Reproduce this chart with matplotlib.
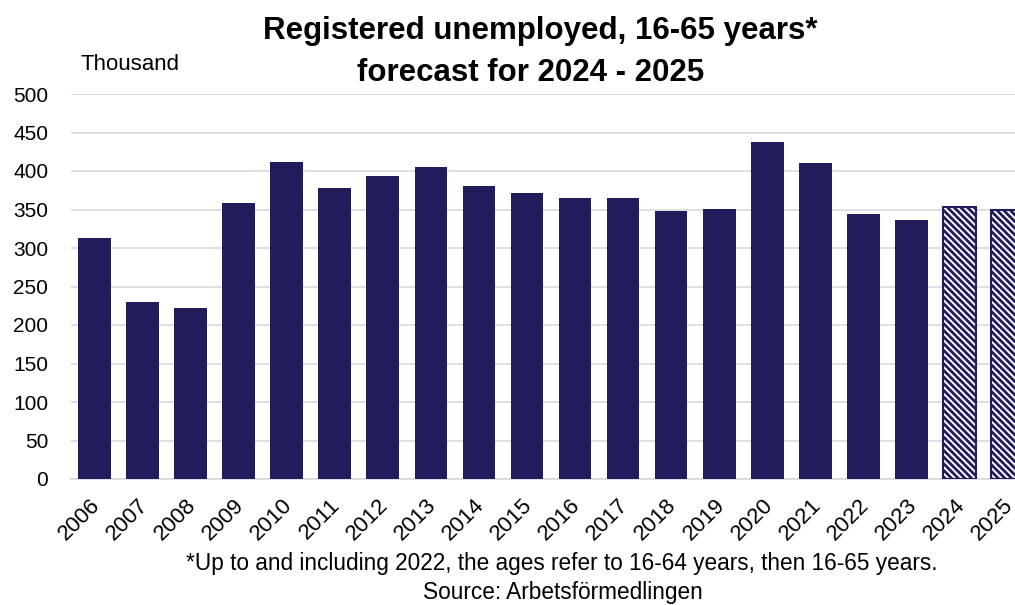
import matplotlib
matplotlib.use("Agg")
import matplotlib.pyplot as plt
import matplotlib.transforms as mtransforms
import numpy as np

plt.rcParams['font.family'] = ['Liberation Sans', 'DejaVu Sans']
plt.rcParams['hatch.linewidth'] = 2.0

years = ['2006', '2007', '2008', '2009', '2010', '2011', '2012', '2013', '2014', '2015',
         '2016', '2017', '2018', '2019', '2020', '2021', '2022', '2023', '2024', '2025']
values = [313, 230, 222, 358, 412, 378, 393, 405, 380, 371,
          365, 365, 348, 351, 438, 410, 344, 336, 353, 350]
forecast = [False] * 18 + [True, True]

navy = '#211C5C'

fig = plt.figure(figsize=(10.15, 6.05), dpi=100)
ax = fig.add_axes([70.5 / 1015, 126 / 605, 961 / 1015, 385 / 605])

x = np.arange(len(years))
for xi, v, f in zip(x, values, forecast):
    if f:
        ax.bar(xi, v, width=0.68, color='white', edgecolor=navy, hatch='\\\\\\\\\\',
               linewidth=1.5, zorder=3)
    else:
        ax.bar(xi, v, width=0.68, color=navy, zorder=3)

ax.set_xlim(-0.5, len(years) - 0.5)
ax.set_ylim(0, 500)
ax.set_yticks(range(0, 501, 50))
ax.yaxis.grid(True, color='#D9D9D9', linewidth=1.2, zorder=0)
ax.set_axisbelow(True)
for s in ['top', 'right', 'left']:
    ax.spines[s].set_visible(False)
ax.spines['bottom'].set_color('#D9D9D9')
ax.spines['bottom'].set_linewidth(1.2)
ax.tick_params(axis='both', length=0)
ax.tick_params(axis='y', pad=16, labelsize=15)
ax.set_xticks(x)
ax.set_xticklabels(years, rotation=45, ha='right', rotation_mode='anchor', fontsize=16)
ax.tick_params(axis='x', pad=11)
offset = mtransforms.ScaledTranslation(-5 / 100, 0, fig.dpi_scale_trans)
for lab in ax.get_xticklabels():
    lab.set_transform(lab.get_transform() + offset)

fig.text(0.532, 0.948, 'Registered unemployed, 16-65 years*', ha='center', va='center',
         fontsize=22.5, fontweight='bold')
fig.text(0.523, 0.879, 'forecast for 2024 - 2025', ha='center', va='center',
         fontsize=22.5, fontweight='bold')
fig.text(0.079, 0.893, 'Thousand', ha='left', va='center', fontsize=16)
fig.text(0.553, 0.069, '*Up to and including 2022, the ages refer to 16-64 years, then 16-65 years.',
         ha='center', va='center', fontsize=16.3)
fig.text(0.555, 0.021, 'Source: Arbetsförmedlingen', ha='center', va='center', fontsize=16.3)

fig.savefig('out.png', dpi=100)
